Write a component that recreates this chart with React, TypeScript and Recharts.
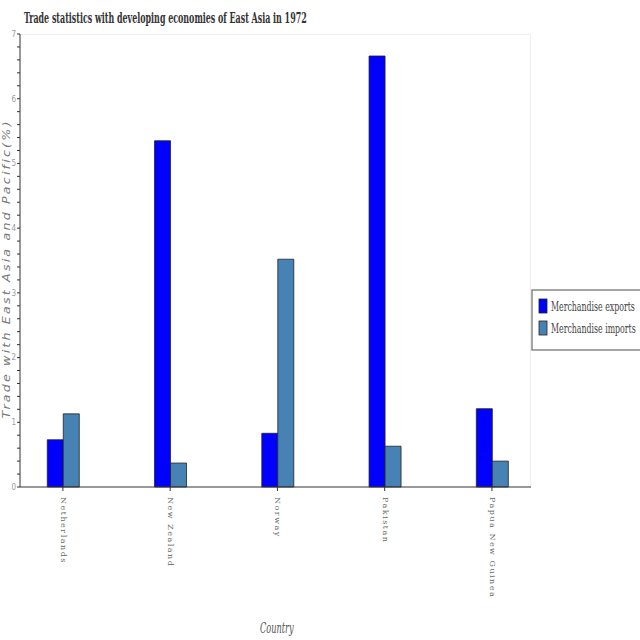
import { BarChart, Bar, XAxis, YAxis } from "recharts";

const countries = ["Netherlands", "New Zealand", "Norway", "Pakistan", "Papua New Guinea"];
const exportsPct = [0.73, 5.35, 0.83, 6.66, 1.21];
const importsPct = [1.13, 0.37, 3.52, 0.63, 0.4];
const yTicks = [0, 0.2, 0.4, 0.6, 0.8, 1, 1.2, 1.4, 1.6, 1.8, 2, 2.2, 2.4, 2.6, 2.8, 3, 3.2, 3.4, 3.6, 3.8, 4, 4.2, 4.4, 4.6, 4.8, 5, 5.2, 5.4, 5.6, 5.8, 6, 6.2, 6.4, 6.6, 6.8, 7];
const seriesNames = ["Merchandise exports", "Merchandise imports"];

const EXP_COLOR = "#0000ff";
const IMP_COLOR = "#4682b4";

const data = countries.map((c, i) => ({
  idx: i,
  country: c,
  exports: exportsPct[i],
  imports: importsPct[i],
}));

function CountryTick(props: any) {
  const { x, y, payload } = props;
  const name = countries[payload.value] ?? "";
  return (
    <text
      x={0}
      y={0}
      transform={`translate(${x},${y + 4}) rotate(90)`}
      fill="#666"
      fontSize={8}
      fontFamily="DejaVu Serif"
      letterSpacing={1.5}
      dominantBaseline="middle"
      textAnchor="start"
    >
      {name}
    </text>
  );
}

function LegendBox() {
  const colors = [EXP_COLOR, IMP_COLOR];
  return (
    <svg width={109} height={62} style={{ position: "absolute", left: 531, top: 289 }}>
      <rect x={1} y={1} width={112} height={60} fill="#fff" stroke="#888" strokeWidth={1.5} />
      {seriesNames.map((n, i) => (
        <g key={n}>
          <rect x={8} y={10 + i * 22} width={8} height={14} fill={colors[i]} stroke="#222" strokeWidth={0.8} />
          <g transform={`translate(20,${22 + i * 22}) scale(0.67,1)`}>
            <text x={0} y={0} fontSize={13} fill="#444" fontFamily="DejaVu Serif Condensed">
              {n}
            </text>
          </g>
        </g>
      ))}
    </svg>
  );
}

export default function App() {
  return (
    <div style={{ position: "absolute", left: 0, top: 0, width: 640, height: 640, background: "#fff", overflow: "hidden" }}>
      <div style={{ position: "absolute", left: 20, top: 34, width: 511, height: 453, borderTop: "1px solid #eee", borderRight: "1px solid #eee", boxSizing: "border-box" }} />
      <BarChart
        width={640}
        height={640}
        data={data}
        margin={{ top: 34, right: 109, bottom: 143, left: 0 }}
        barGap={0}
        barSize={16}
      >
        <XAxis
          type="number"
          dataKey="idx"
          domain={[-0.4, 4.364]}
          ticks={[0, 1, 2, 3, 4]}
          allowDataOverflow
          height={10}
          stroke="#333"
          tickSize={4}
          tick={<CountryTick />}
          interval={0}
        />
        <YAxis
          domain={[0, 7]}
          ticks={yTicks}
          interval={0}
          width={20}
          stroke="#333"
          tickSize={3}
          tickMargin={1}
          tick={{ fill: "#999", fontSize: 8, fontFamily: "DejaVu Sans Condensed" }}
          tickFormatter={(v: number) => (Number.isInteger(v) ? String(v) : "")}
        />
        <Bar dataKey="exports" name={seriesNames[0]} fill={EXP_COLOR} stroke="#222" strokeWidth={0.8} isAnimationActive={false} />
        <Bar dataKey="imports" name={seriesNames[1]} fill={IMP_COLOR} stroke="#222" strokeWidth={0.8} isAnimationActive={false} />
      </BarChart>
      <LegendBox />
      <svg width={640} height={640} style={{ position: "absolute", left: 0, top: 0, pointerEvents: "none" }}>
        <g transform="translate(24,23) scale(0.63,1)">
          <text x={0} y={0} fontSize={14} fontWeight="bold" fill="#333" fontFamily="DejaVu Serif Condensed">
            Trade statistics with developing economies of East Asia in 1972
          </text>
        </g>
        <text
          x={0}
          y={0}
          transform="translate(10,269) rotate(-90) scale(1.15,1)"
          textAnchor="middle"
          fontSize={11}
          fontStyle="italic"
          fill="#777"
          fontFamily="DejaVu Sans"
          letterSpacing={1.9}
        >
          Trade with East Asia and Pacific(%)
        </text>
        <g transform="translate(260,633) scale(0.65,1)">
          <text x={0} y={0} fontSize={14} fontStyle="italic" fill="#555" fontFamily="DejaVu Serif Condensed">
            Country
          </text>
        </g>
      </svg>
    </div>
  );
}
